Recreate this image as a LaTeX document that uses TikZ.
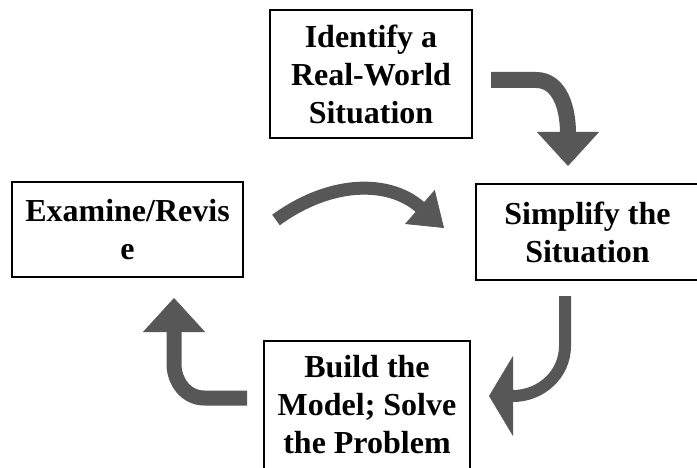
\documentclass[tikz,border=0pt]{standalone}
\usepackage{fontspec}
\setmainfont{Liberation Serif}
\usepackage{tikz}
\usetikzlibrary{
    arrows.meta,
    calc
}
\definecolor{cyclegray}{HTML}{575757}
\tikzstyle{fatarrow}=[line width=15pt,draw=cyclegray,-{Triangle[length=34pt,width=62pt,line width=0.8pt]}]

\begin{document}
\begin{tikzpicture}[
    x=1pt,y=1pt,
    every node/.style={font=\fontsize{32}{38}\selectfont\bfseries},
    stage/.style={
        rectangle,
        draw=black,
        line width=2pt,
        inner sep=0pt,
        align=center
    }
]
\useasboundingbox (0,0) rectangle (697,467);
\node[stage,minimum width=202pt,minimum height=128pt] (a) at (371,393) {Identify a\\Real-World\\Situation};
\node[stage,minimum width=223pt,minimum height=96pt] (b) at (587.5,235) {Simplify the\\Situation};
\node[stage,minimum width=206pt,minimum height=128pt] (c) at (367,62) {Build the\\Model; Solve\\the Problem};
\node[stage,minimum width=231pt,minimum height=95pt] (d) at (127.5,237.5) {Examine/Revis\\e};
% around the cycle
\draw[fatarrow,line width=16pt] ([shift={(18,-6)}]a.east) -- ++(45,0)
    to[out=0,in=90] ([shift={(-19.5,50)}]b.north) -- ([shift={(-19.5,17)}]b.north);
\draw[fatarrow,line width=12pt,-{Triangle[length=24pt,width=80pt,line width=0.8pt]}]
    ([shift={(-22.5,-15)}]b.south) -- ++(0,-50)
    to[out=-90,in=0] ([shift={(42,9)}]c.east) -- ([shift={(18,9)}]c.east);
\draw[fatarrow] ([shift={(-16,7)}]c.west) -- ++(-43,0)
    to[out=180,in=-90] ([shift={(46.5,-86)}]d.south) -- ([shift={(46.5,-20)}]d.south);
\draw[fatarrow,line width=13pt,-{Triangle[length=32pt,width=45pt,line width=0.8pt]}]
    ([shift={(32,9.5)}]d.east) .. controls ++(55,40) and ([shift={(-86,52)}]b.west) .. ([shift={(-31,4)}]b.west);
\end{tikzpicture}
\end{document}
